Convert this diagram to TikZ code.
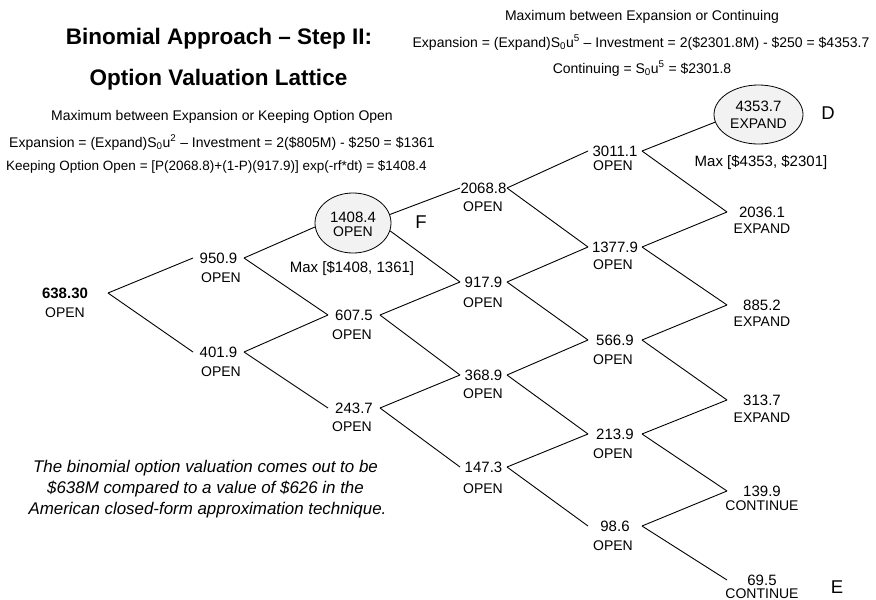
\documentclass[tikz,border=0pt]{standalone}
\usepackage{fontspec}
\setmainfont{Liberation Sans}
\usetikzlibrary{shapes.geometric}
\begin{document}
\begin{tikzpicture}[x=1pt,y=-1pt,
  txt/.style={inner sep=0pt, outer sep=0pt, anchor=center, text depth=0pt},
  ttl/.style={txt, font=\fontsize{22.5}{27}\selectfont\bfseries, text height=16.1pt},
  frm/.style={txt, font=\fontsize{14}{17}\selectfont, text height=10pt},
  num/.style={txt, font=\fontsize{15}{18}\selectfont, text height=10.7pt, minimum width=#1},
  num/.default=51pt,
  lbl/.style={txt, font=\fontsize{14}{17}\selectfont, text height=10pt},
  mx/.style={txt, font=\fontsize{15}{18}\selectfont, text height=10.7pt},
  tag/.style={txt, font=\fontsize{18.5}{22}\selectfont, text height=13.2pt},
  note/.style={txt, font=\fontsize{16.9}{20}\selectfont\itshape, text height=12.1pt},
  oval/.style={draw, ellipse, fill=gray!10, line width=0.8pt, inner sep=0pt},
  link/.style={line width=0.9pt}
]
\useasboundingbox (0,0) rectangle (876,600);
\fill[white] (0,0) rectangle (876,600);

% titles
\node[ttl] (t1) at (219,36) {Binomial Approach – Step II:};
\node[ttl] (t2) at (218.5,77) {Option Valuation Lattice};

% left formulas
\node[frm] (l1) at (222,115) {Maximum between Expansion or Keeping Option Open};
\node[frm] (l2) at (222,142) {Expansion = (Expand)S\textsubscript{0}u\textsuperscript{2} – Investment = 2(\$805M) - \$250 = \$1361};
\node[frm, font=\fontsize{13.5}{16}\selectfont, text height=9.7pt] (l3) at (216.5,166) {Keeping Option Open = [P(2068.8)+(1-P)(917.9)] exp(-rf*dt) = \$1408.4};

% right formulas
\node[frm] (r1) at (642,15) {Maximum between Expansion or Continuing};
\node[frm] (r2) at (641,42) {Expansion = (Expand)S\textsubscript{0}u\textsuperscript{5} – Investment = 2(\$2301.8M) - \$250 = \$4353.7};
\node[frm] (r3) at (642,68) {Continuing = S\textsubscript{0}u\textsuperscript{5} = \$2301.8};

% column 0
\node[num=86pt, font=\fontsize{15}{18}\selectfont\bfseries] (n0) at (65,293) {638.30};
\node[lbl] (n0l) at (65,312) {OPEN};

% column 1
\node[num] (n1a) at (218.5,258) {950.9};
\node[lbl] (n1al) at (221,277) {OPEN};
\node[num] (n1b) at (218.5,352) {401.9};
\node[lbl] (n1bl) at (221,371) {OPEN};

% column 2
\node[oval, minimum width=76pt, minimum height=60pt] (e2a) at (353,223) {};
\node[num] (e2an) at (353,217) {1408.4};
\node[lbl] (e2al) at (353,231) {OPEN};
\node[mx] (m2) at (352,267) {Max [\$1408, 1361]};
\node[tag] (tF) at (421,222) {F};
\node[num=52pt] (n2b) at (354,315) {607.5};
\node[lbl] (n2bl) at (352,334) {OPEN};
\node[num=52pt] (n2c) at (354,408) {243.7};
\node[lbl] (n2cl) at (352,426) {OPEN};

% column 3
\node[num=47pt] (n3a) at (483.5,188) {2068.8};
\node[lbl] (n3al) at (483,206) {OPEN};
\node[num=47pt] (n3b) at (483.5,282) {917.9};
\node[lbl] (n3bl) at (483,302) {OPEN};
\node[num=47pt] (n3c) at (483.5,375) {368.9};
\node[lbl] (n3cl) at (483,393) {OPEN};
\node[num=47pt] (n3d) at (483.5,467) {147.3};
\node[lbl] (n3dl) at (483,488) {OPEN};

% column 4
\node[num=54pt] (n4a) at (615,151) {3011.1};
\node[lbl] (n4al) at (613,165) {OPEN};
\node[num=54pt] (n4b) at (615,247) {1377.9};
\node[lbl] (n4bl) at (613,264) {OPEN};
\node[num=54pt] (n4c) at (615,340) {566.9};
\node[lbl] (n4cl) at (613,359) {OPEN};
\node[num=54pt] (n4d) at (615,434) {213.9};
\node[lbl] (n4dl) at (613,453) {OPEN};
\node[num=54pt] (n4e) at (615,526) {98.6};
\node[lbl] (n4el) at (613,545) {OPEN};

% column 5
\node[oval, minimum width=89pt, minimum height=59pt] (e5a) at (758.5,114.5) {};
\node[num] (e5an) at (758.5,106) {4353.7};
\node[lbl] (e5al) at (758.5,123) {EXPAND};
\node[mx] (m5) at (761,161) {Max [\$4353, \$2301]};
\node[tag] (tD) at (828,113) {D};
\node[num=70pt] (n5b) at (762,212) {2036.1};
\node[lbl] (n5bl) at (762,228) {EXPAND};
\node[num=70pt] (n5c) at (762,305) {885.2};
\node[lbl] (n5cl) at (762,321) {EXPAND};
\node[num=70pt] (n5d) at (762,400) {313.7};
\node[lbl] (n5dl) at (762,417) {EXPAND};
\node[num=70pt] (n5e) at (762,491) {139.9};
\node[lbl] (n5el) at (762,505) {CONTINUE};
\node[num=70pt] (n5f) at (762,580) {69.5};
\node[lbl] (n5fl) at (762,593) {CONTINUE};
\node[tag] (tE) at (837,587) {E};

% note
\node[note] (c1) at (205.5,466) {The binomial option valuation comes out to be};
\node[note] (c2) at (205.5,487) {\$638M compared to a value of \$626 in the};
\node[note] (c3) at (207.5,508) {American closed-form approximation technique.};

% connectors
\draw[link] (n0.east) -- (n1a.west);
\draw[link] (n0.east) -- (n1b.west);
\draw[link] (n1a.east) -- (e2a.186);
\draw[link] (n1a.east) -- (n2b.west);
\draw[link] (n1b.east) -- (n2b.west);
\draw[link] (n1b.east) -- (n2c.west);
\draw[link] (e2a.13) -- (n3a.west);
\draw[link] (e2a.-12) -- (n3b.west);
\draw[link] (n2b.east) -- (n3b.west);
\draw[link] (n2b.east) -- (n3c.west);
\draw[link] (n2c.east) -- (n3c.west);
\draw[link] (n2c.east) -- (n3d.west);
\draw[link] (n3a.east) -- (n4a.west);
\draw[link] (n3a.east) -- (n4b.west);
\draw[link] (n3b.east) -- (n4b.west);
\draw[link] (n3b.east) -- (n4c.west);
\draw[link] (n3c.east) -- (n4c.west);
\draw[link] (n3c.east) -- (n4d.west);
\draw[link] (n3d.east) -- (n4d.west);
\draw[link] (n3d.east) -- (n4e.west);
\draw[link] (n4a.east) -- (e5a.190);
\draw[link] (n4a.east) -- (n5b.west);
\draw[link] (n4b.east) -- (n5b.west);
\draw[link] (n4b.east) -- (n5c.west);
\draw[link] (n4c.east) -- (n5c.west);
\draw[link] (n4c.east) -- (n5d.west);
\draw[link] (n4d.east) -- (n5d.west);
\draw[link] (n4d.east) -- (n5e.west);
\draw[link] (n4e.east) -- (n5e.west);
\draw[link] (n4e.east) -- (n5f.west);
\end{tikzpicture}
\end{document}
